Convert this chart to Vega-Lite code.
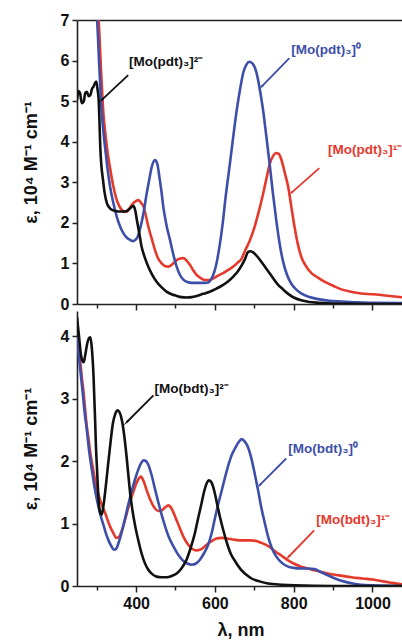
{
  "$schema": "https://vega.github.io/schema/vega-lite/v6.json",
  "padding": {"left": 22, "top": 12, "right": 0, "bottom": 0},
  "background": "white",
  "bounds": "flush",
  "spacing": 7,
  "config": {
    "view": {"stroke": null},
    "axis": {"labelFont": "Liberation Sans", "labelFontWeight": "bold", "labelFontSize": 16, "labelColor": "#111", "titleFont": "Liberation Sans", "titleFontWeight": "bold", "titleFontSize": 18, "titleColor": "#111", "domainColor": "#222", "domainWidth": 1.6, "tickColor": "#222", "tickWidth": 1.5, "grid": false, "labelOverlap": false}
  },
  "datasets": {
    "top": [
      {"s":"1-","wl":295,"e":8.4},{"s":"1-","wl":300,"e":7.6},{"s":"1-","wl":305,"e":7.0},{"s":"1-","wl":311,"e":5.77},{"s":"1-","wl":317,"e":4.7},{"s":"1-","wl":322,"e":4.2},{"s":"1-","wl":328,"e":3.71},{"s":"1-","wl":334,"e":3.35},{"s":"1-","wl":339,"e":3.06},{"s":"1-","wl":345,"e":2.78},{"s":"1-","wl":351,"e":2.56},{"s":"1-","wl":357,"e":2.42},{"s":"1-","wl":364,"e":2.32},{"s":"1-","wl":370,"e":2.27},{"s":"1-","wl":377,"e":2.28},{"s":"1-","wl":383,"e":2.35},{"s":"1-","wl":389,"e":2.44},{"s":"1-","wl":397,"e":2.52},{"s":"1-","wl":406,"e":2.56},{"s":"1-","wl":412,"e":2.5},{"s":"1-","wl":419,"e":2.4},{"s":"1-","wl":425,"e":2.17},{"s":"1-","wl":431,"e":1.91},{"s":"1-","wl":440,"e":1.6},{"s":"1-","wl":448,"e":1.33},{"s":"1-","wl":456,"e":1.12},{"s":"1-","wl":465,"e":1.0},{"s":"1-","wl":474,"e":0.93},{"s":"1-","wl":482,"e":0.92},{"s":"1-","wl":492,"e":0.98},{"s":"1-","wl":503,"e":1.08},{"s":"1-","wl":512,"e":1.12},{"s":"1-","wl":520,"e":1.13},{"s":"1-","wl":528,"e":1.07},{"s":"1-","wl":537,"e":0.96},{"s":"1-","wl":545,"e":0.83},{"s":"1-","wl":554,"e":0.71},{"s":"1-","wl":564,"e":0.64},{"s":"1-","wl":575,"e":0.59},{"s":"1-","wl":585,"e":0.59},{"s":"1-","wl":596,"e":0.63},{"s":"1-","wl":608,"e":0.7},{"s":"1-","wl":621,"e":0.76},{"s":"1-","wl":634,"e":0.84},{"s":"1-","wl":646,"e":0.92},{"s":"1-","wl":658,"e":1.02},{"s":"1-","wl":668,"e":1.12},{"s":"1-","wl":676,"e":1.3},{"s":"1-","wl":688,"e":1.55},{"s":"1-","wl":701,"e":1.91},{"s":"1-","wl":712,"e":2.3},{"s":"1-","wl":722,"e":2.7},{"s":"1-","wl":731,"e":3.1},{"s":"1-","wl":739,"e":3.45},{"s":"1-","wl":748,"e":3.65},{"s":"1-","wl":756,"e":3.72},{"s":"1-","wl":762,"e":3.7},{"s":"1-","wl":769,"e":3.55},{"s":"1-","wl":777,"e":3.25},{"s":"1-","wl":786,"e":2.89},{"s":"1-","wl":794,"e":2.4},{"s":"1-","wl":802,"e":1.91},{"s":"1-","wl":810,"e":1.5},{"s":"1-","wl":819,"e":1.17},{"s":"1-","wl":830,"e":0.95},{"s":"1-","wl":845,"e":0.76},{"s":"1-","wl":860,"e":0.66},{"s":"1-","wl":878,"e":0.55},{"s":"1-","wl":900,"e":0.45},{"s":"1-","wl":921,"e":0.36},{"s":"1-","wl":946,"e":0.3},{"s":"1-","wl":971,"e":0.26},{"s":"1-","wl":1000,"e":0.24},{"s":"1-","wl":1022,"e":0.22},{"s":"1-","wl":1050,"e":0.19},{"s":"1-","wl":1080,"e":0.16},
      {"s":"0","wl":290,"e":8.4},{"s":"0","wl":295,"e":7.6},{"s":"0","wl":301,"e":7.0},{"s":"0","wl":307,"e":5.77},{"s":"0","wl":313,"e":4.7},{"s":"0","wl":318,"e":4.15},{"s":"0","wl":322,"e":3.8},{"s":"0","wl":328,"e":3.3},{"s":"0","wl":334,"e":2.89},{"s":"0","wl":342,"e":2.5},{"s":"0","wl":351,"e":2.15},{"s":"0","wl":360,"e":1.9},{"s":"0","wl":368,"e":1.74},{"s":"0","wl":378,"e":1.62},{"s":"0","wl":385,"e":1.58},{"s":"0","wl":392,"e":1.55},{"s":"0","wl":398,"e":1.58},{"s":"0","wl":404,"e":1.66},{"s":"0","wl":410,"e":1.85},{"s":"0","wl":418,"e":2.2},{"s":"0","wl":427,"e":2.73},{"s":"0","wl":434,"e":3.1},{"s":"0","wl":440,"e":3.39},{"s":"0","wl":448,"e":3.55},{"s":"0","wl":454,"e":3.45},{"s":"0","wl":459,"e":3.14},{"s":"0","wl":464,"e":2.8},{"s":"0","wl":469,"e":2.4},{"s":"0","wl":477,"e":1.95},{"s":"0","wl":486,"e":1.58},{"s":"0","wl":495,"e":1.2},{"s":"0","wl":503,"e":0.92},{"s":"0","wl":511,"e":0.72},{"s":"0","wl":520,"e":0.6},{"s":"0","wl":530,"e":0.54},{"s":"0","wl":541,"e":0.52},{"s":"0","wl":552,"e":0.52},{"s":"0","wl":562,"e":0.52},{"s":"0","wl":575,"e":0.52},{"s":"0","wl":583,"e":0.53},{"s":"0","wl":590,"e":0.6},{"s":"0","wl":596,"e":0.72},{"s":"0","wl":604,"e":1.0},{"s":"0","wl":613,"e":1.5},{"s":"0","wl":620,"e":2.0},{"s":"0","wl":628,"e":2.7},{"s":"0","wl":636,"e":3.3},{"s":"0","wl":645,"e":4.0},{"s":"0","wl":655,"e":4.75},{"s":"0","wl":664,"e":5.3},{"s":"0","wl":672,"e":5.7},{"s":"0","wl":680,"e":5.9},{"s":"0","wl":688,"e":5.97},{"s":"0","wl":696,"e":5.92},{"s":"0","wl":705,"e":5.72},{"s":"0","wl":713,"e":5.35},{"s":"0","wl":722,"e":4.8},{"s":"0","wl":731,"e":4.1},{"s":"0","wl":739,"e":3.45},{"s":"0","wl":747,"e":2.75},{"s":"0","wl":756,"e":2.05},{"s":"0","wl":765,"e":1.45},{"s":"0","wl":773,"e":1.05},{"s":"0","wl":783,"e":0.72},{"s":"0","wl":794,"e":0.5},{"s":"0","wl":806,"e":0.36},{"s":"0","wl":819,"e":0.26},{"s":"0","wl":840,"e":0.17},{"s":"0","wl":862,"e":0.12},{"s":"0","wl":890,"e":0.08},{"s":"0","wl":921,"e":0.06},{"s":"0","wl":960,"e":0.04},{"s":"0","wl":1000,"e":0.03},{"s":"0","wl":1080,"e":0.02},
      {"s":"2-","wl":250,"e":5.03},{"s":"2-","wl":254,"e":5.25},{"s":"2-","wl":258,"e":5.19},{"s":"2-","wl":262,"e":4.95},{"s":"2-","wl":267,"e":4.99},{"s":"2-","wl":271,"e":5.2},{"s":"2-","wl":275,"e":5.23},{"s":"2-","wl":280,"e":5.12},{"s":"2-","wl":284,"e":5.15},{"s":"2-","wl":288,"e":5.3},{"s":"2-","wl":292,"e":5.36},{"s":"2-","wl":296,"e":5.45},{"s":"2-","wl":299,"e":5.48},{"s":"2-","wl":302,"e":5.3},{"s":"2-","wl":305,"e":5.03},{"s":"2-","wl":307,"e":4.5},{"s":"2-","wl":309,"e":3.88},{"s":"2-","wl":312,"e":3.4},{"s":"2-","wl":316,"e":3.06},{"s":"2-","wl":320,"e":2.75},{"s":"2-","wl":326,"e":2.48},{"s":"2-","wl":332,"e":2.38},{"s":"2-","wl":339,"e":2.32},{"s":"2-","wl":355,"e":2.28},{"s":"2-","wl":372,"e":2.28},{"s":"2-","wl":385,"e":2.36},{"s":"2-","wl":393,"e":2.42},{"s":"2-","wl":398,"e":2.3},{"s":"2-","wl":402,"e":2.07},{"s":"2-","wl":408,"e":1.75},{"s":"2-","wl":414,"e":1.41},{"s":"2-","wl":422,"e":1.15},{"s":"2-","wl":431,"e":0.92},{"s":"2-","wl":441,"e":0.72},{"s":"2-","wl":452,"e":0.55},{"s":"2-","wl":465,"e":0.41},{"s":"2-","wl":478,"e":0.3},{"s":"2-","wl":490,"e":0.24},{"s":"2-","wl":503,"e":0.2},{"s":"2-","wl":515,"e":0.17},{"s":"2-","wl":528,"e":0.16},{"s":"2-","wl":541,"e":0.17},{"s":"2-","wl":554,"e":0.2},{"s":"2-","wl":570,"e":0.25},{"s":"2-","wl":587,"e":0.3},{"s":"2-","wl":604,"e":0.38},{"s":"2-","wl":621,"e":0.47},{"s":"2-","wl":634,"e":0.56},{"s":"2-","wl":646,"e":0.67},{"s":"2-","wl":658,"e":0.8},{"s":"2-","wl":668,"e":0.95},{"s":"2-","wl":676,"e":1.1},{"s":"2-","wl":684,"e":1.28},{"s":"2-","wl":690,"e":1.3},{"s":"2-","wl":696,"e":1.28},{"s":"2-","wl":705,"e":1.2},{"s":"2-","wl":715,"e":1.08},{"s":"2-","wl":727,"e":0.92},{"s":"2-","wl":743,"e":0.7},{"s":"2-","wl":760,"e":0.48},{"s":"2-","wl":773,"e":0.36},{"s":"2-","wl":786,"e":0.25},{"s":"2-","wl":800,"e":0.16},{"s":"2-","wl":819,"e":0.09},{"s":"2-","wl":840,"e":0.05},{"s":"2-","wl":862,"e":0.03},{"s":"2-","wl":900,"e":0.01},{"s":"2-","wl":1000,"e":0},{"s":"2-","wl":1080,"e":0}
    ],
    "bottom": [
      {"s":"1-","wl":250,"e":3.98},{"s":"1-","wl":254,"e":3.8},{"s":"1-","wl":258,"e":3.61},{"s":"1-","wl":262,"e":3.35},{"s":"1-","wl":267,"e":3.08},{"s":"1-","wl":271,"e":2.8},{"s":"1-","wl":275,"e":2.55},{"s":"1-","wl":280,"e":2.32},{"s":"1-","wl":284,"e":2.12},{"s":"1-","wl":290,"e":1.9},{"s":"1-","wl":296,"e":1.69},{"s":"1-","wl":302,"e":1.52},{"s":"1-","wl":309,"e":1.37},{"s":"1-","wl":316,"e":1.25},{"s":"1-","wl":322,"e":1.16},{"s":"1-","wl":328,"e":1.05},{"s":"1-","wl":334,"e":0.95},{"s":"1-","wl":342,"e":0.85},{"s":"1-","wl":350,"e":0.77},{"s":"1-","wl":357,"e":0.79},{"s":"1-","wl":364,"e":0.89},{"s":"1-","wl":372,"e":1.06},{"s":"1-","wl":381,"e":1.27},{"s":"1-","wl":390,"e":1.45},{"s":"1-","wl":398,"e":1.6},{"s":"1-","wl":405,"e":1.7},{"s":"1-","wl":412,"e":1.75},{"s":"1-","wl":419,"e":1.68},{"s":"1-","wl":427,"e":1.53},{"s":"1-","wl":436,"e":1.38},{"s":"1-","wl":448,"e":1.24},{"s":"1-","wl":456,"e":1.2},{"s":"1-","wl":465,"e":1.21},{"s":"1-","wl":474,"e":1.26},{"s":"1-","wl":482,"e":1.29},{"s":"1-","wl":490,"e":1.24},{"s":"1-","wl":499,"e":1.11},{"s":"1-","wl":510,"e":0.94},{"s":"1-","wl":520,"e":0.79},{"s":"1-","wl":530,"e":0.68},{"s":"1-","wl":541,"e":0.6},{"s":"1-","wl":552,"e":0.57},{"s":"1-","wl":562,"e":0.58},{"s":"1-","wl":572,"e":0.62},{"s":"1-","wl":583,"e":0.68},{"s":"1-","wl":595,"e":0.73},{"s":"1-","wl":604,"e":0.76},{"s":"1-","wl":617,"e":0.77},{"s":"1-","wl":630,"e":0.76},{"s":"1-","wl":650,"e":0.74},{"s":"1-","wl":668,"e":0.73},{"s":"1-","wl":690,"e":0.73},{"s":"1-","wl":705,"e":0.72},{"s":"1-","wl":718,"e":0.69},{"s":"1-","wl":735,"e":0.64},{"s":"1-","wl":752,"e":0.56},{"s":"1-","wl":770,"e":0.48},{"s":"1-","wl":786,"e":0.41},{"s":"1-","wl":800,"e":0.36},{"s":"1-","wl":819,"e":0.31},{"s":"1-","wl":836,"e":0.28},{"s":"1-","wl":860,"e":0.24},{"s":"1-","wl":887,"e":0.2},{"s":"1-","wl":915,"e":0.17},{"s":"1-","wl":946,"e":0.14},{"s":"1-","wl":975,"e":0.12},{"s":"1-","wl":1005,"e":0.1},{"s":"1-","wl":1030,"e":0.07},{"s":"1-","wl":1050,"e":0.05},{"s":"1-","wl":1080,"e":0.02},
      {"s":"0","wl":250,"e":3.98},{"s":"0","wl":256,"e":3.6},{"s":"0","wl":263,"e":3.18},{"s":"0","wl":269,"e":2.8},{"s":"0","wl":275,"e":2.49},{"s":"0","wl":281,"e":2.15},{"s":"0","wl":288,"e":1.85},{"s":"0","wl":294,"e":1.6},{"s":"0","wl":301,"e":1.37},{"s":"0","wl":309,"e":1.15},{"s":"0","wl":317,"e":0.98},{"s":"0","wl":323,"e":0.85},{"s":"0","wl":330,"e":0.73},{"s":"0","wl":337,"e":0.64},{"s":"0","wl":344,"e":0.58},{"s":"0","wl":350,"e":0.6},{"s":"0","wl":355,"e":0.68},{"s":"0","wl":363,"e":0.85},{"s":"0","wl":372,"e":1.08},{"s":"0","wl":380,"e":1.3},{"s":"0","wl":389,"e":1.52},{"s":"0","wl":398,"e":1.72},{"s":"0","wl":406,"e":1.87},{"s":"0","wl":413,"e":1.97},{"s":"0","wl":419,"e":2.01},{"s":"0","wl":425,"e":2.0},{"s":"0","wl":431,"e":1.94},{"s":"0","wl":440,"e":1.76},{"s":"0","wl":448,"e":1.55},{"s":"0","wl":458,"e":1.3},{"s":"0","wl":469,"e":1.05},{"s":"0","wl":482,"e":0.8},{"s":"0","wl":495,"e":0.63},{"s":"0","wl":507,"e":0.5},{"s":"0","wl":520,"e":0.4},{"s":"0","wl":530,"e":0.36},{"s":"0","wl":541,"e":0.34},{"s":"0","wl":552,"e":0.36},{"s":"0","wl":562,"e":0.42},{"s":"0","wl":572,"e":0.52},{"s":"0","wl":583,"e":0.66},{"s":"0","wl":592,"e":0.85},{"s":"0","wl":600,"e":1.08},{"s":"0","wl":608,"e":1.3},{"s":"0","wl":617,"e":1.52},{"s":"0","wl":625,"e":1.72},{"s":"0","wl":634,"e":1.93},{"s":"0","wl":643,"e":2.1},{"s":"0","wl":651,"e":2.2},{"s":"0","wl":660,"e":2.3},{"s":"0","wl":668,"e":2.35},{"s":"0","wl":676,"e":2.31},{"s":"0","wl":684,"e":2.22},{"s":"0","wl":693,"e":2.03},{"s":"0","wl":701,"e":1.8},{"s":"0","wl":710,"e":1.52},{"s":"0","wl":718,"e":1.25},{"s":"0","wl":727,"e":1.0},{"s":"0","wl":735,"e":0.79},{"s":"0","wl":745,"e":0.6},{"s":"0","wl":756,"e":0.47},{"s":"0","wl":770,"e":0.37},{"s":"0","wl":786,"e":0.31},{"s":"0","wl":800,"e":0.29},{"s":"0","wl":819,"e":0.28},{"s":"0","wl":836,"e":0.28},{"s":"0","wl":853,"e":0.27},{"s":"0","wl":870,"e":0.22},{"s":"0","wl":887,"e":0.17},{"s":"0","wl":905,"e":0.12},{"s":"0","wl":929,"e":0.07},{"s":"0","wl":950,"e":0.04},{"s":"0","wl":971,"e":0.02},{"s":"0","wl":1000,"e":0.01},{"s":"0","wl":1080,"e":0},
      {"s":"2-","wl":250,"e":4.3},{"s":"2-","wl":255,"e":4.0},{"s":"2-","wl":260,"e":3.7},{"s":"2-","wl":264,"e":3.6},{"s":"2-","wl":267,"e":3.58},{"s":"2-","wl":271,"e":3.7},{"s":"2-","wl":276,"e":3.88},{"s":"2-","wl":281,"e":3.97},{"s":"2-","wl":284,"e":3.98},{"s":"2-","wl":287,"e":3.85},{"s":"2-","wl":290,"e":3.6},{"s":"2-","wl":292,"e":3.35},{"s":"2-","wl":294,"e":3.0},{"s":"2-","wl":296,"e":2.65},{"s":"2-","wl":298,"e":2.25},{"s":"2-","wl":301,"e":1.85},{"s":"2-","wl":305,"e":1.35},{"s":"2-","wl":309,"e":1.17},{"s":"2-","wl":312,"e":1.14},{"s":"2-","wl":315,"e":1.2},{"s":"2-","wl":319,"e":1.37},{"s":"2-","wl":324,"e":1.65},{"s":"2-","wl":330,"e":2.01},{"s":"2-","wl":336,"e":2.35},{"s":"2-","wl":341,"e":2.6},{"s":"2-","wl":347,"e":2.75},{"s":"2-","wl":353,"e":2.81},{"s":"2-","wl":358,"e":2.78},{"s":"2-","wl":364,"e":2.65},{"s":"2-","wl":370,"e":2.4},{"s":"2-","wl":375,"e":2.12},{"s":"2-","wl":380,"e":1.8},{"s":"2-","wl":385,"e":1.48},{"s":"2-","wl":391,"e":1.2},{"s":"2-","wl":398,"e":0.95},{"s":"2-","wl":406,"e":0.72},{"s":"2-","wl":414,"e":0.52},{"s":"2-","wl":422,"e":0.37},{"s":"2-","wl":431,"e":0.26},{"s":"2-","wl":441,"e":0.19},{"s":"2-","wl":452,"e":0.15},{"s":"2-","wl":465,"e":0.14},{"s":"2-","wl":478,"e":0.14},{"s":"2-","wl":490,"e":0.16},{"s":"2-","wl":503,"e":0.2},{"s":"2-","wl":515,"e":0.28},{"s":"2-","wl":528,"e":0.42},{"s":"2-","wl":538,"e":0.6},{"s":"2-","wl":549,"e":0.84},{"s":"2-","wl":558,"e":1.1},{"s":"2-","wl":566,"e":1.32},{"s":"2-","wl":573,"e":1.52},{"s":"2-","wl":579,"e":1.64},{"s":"2-","wl":585,"e":1.69},{"s":"2-","wl":590,"e":1.67},{"s":"2-","wl":595,"e":1.6},{"s":"2-","wl":600,"e":1.48},{"s":"2-","wl":606,"e":1.3},{"s":"2-","wl":613,"e":1.1},{"s":"2-","wl":621,"e":0.9},{"s":"2-","wl":630,"e":0.7},{"s":"2-","wl":640,"e":0.52},{"s":"2-","wl":651,"e":0.4},{"s":"2-","wl":665,"e":0.27},{"s":"2-","wl":680,"e":0.18},{"s":"2-","wl":693,"e":0.12},{"s":"2-","wl":715,"e":0.07},{"s":"2-","wl":735,"e":0.04},{"s":"2-","wl":770,"e":0.02},{"s":"2-","wl":802,"e":0.01},{"s":"2-","wl":900,"e":0},{"s":"2-","wl":1080,"e":0}
    ],
    "topNotes": [
      {"s":"2-","label":"[Mo(pdt)₃]²⁻","tx":382,"ty":5.96,"x1":380,"y1":5.64,"x2":313,"y2":5.03},
      {"s":"0","label":"[Mo(pdt)₃]⁰","tx":794,"ty":6.26,"x1":789,"y1":6.06,"x2":718,"y2":5.35},
      {"s":"1-","label":"[Mo(pdt)₃]¹⁻","tx":887,"ty":3.8,"x1":865,"y1":3.35,"x2":794,"y2":2.74}
    ],
    "bottomNotes": [
      {"s":"2-","label":"[Mo(bdt)₃]²⁻","tx":447,"ty":3.16,"x1":444,"y1":3.05,"x2":376,"y2":2.62},
      {"s":"0","label":"[Mo(bdt)₃]⁰","tx":786,"ty":2.2,"x1":781,"y1":2.04,"x2":713,"y2":1.61},
      {"s":"1-","label":"[Mo(bdt)₃]¹⁻","tx":857,"ty":1.05,"x1":852,"y1":0.89,"x2":786,"y2":0.46}
    ]
  },
  "vconcat": [
    {
      "width": 327,
      "height": 284,
      "resolve": {"axis": {"x": "independent"}},
      "layer": [
        {
          "data": {"name": "top"},
          "mark": {"type": "line", "interpolate": "monotone", "strokeWidth": 2.6, "clip": true},
          "encoding": {
            "x": {"field": "wl", "type": "quantitative", "scale": {"domain": [250, 1080], "nice": false, "zero": false},
                  "axis": {"values": [300,400,500,600,700,800,900,1000], "labels": false, "title": null, "tickSize": {"condition": {"test": "datum.value % 200 === 0", "value": 6}, "value": 4}}},
            "y": {"field": "e", "type": "quantitative", "scale": {"domain": [0, 7], "nice": false},
                  "axis": {"values": [0,0.5,1,1.5,2,2.5,3,3.5,4,4.5,5,5.5,6,6.5,7], "format": "d", "labelExpr": "datum.value % 1 === 0 ? datum.label : ''", "tickSize": {"condition": {"test": "datum.value % 1 === 0", "value": 5}, "value": 3}, "labelPadding": 3, "title": "ε, 10⁴ M⁻¹ cm⁻¹", "titlePadding": 20}},
            "color": {"field": "s", "type": "nominal", "scale": {"domain": ["2-","0","1-"], "range": ["#111111","#3d4fa8","#e5392c"]}, "legend": null}
          }
        },
        {
          "data": {"name": "topNotes"},
          "mark": {"type": "rule", "strokeWidth": 1.8},
          "encoding": {
            "x": {"field": "x1", "type": "quantitative", "axis": {"orient": "top", "labels": false, "ticks": false, "title": null}},
            "y": {"field": "y1", "type": "quantitative"},
            "x2": {"field": "x2"},
            "y2": {"field": "y2"},
            "color": {"field": "s", "type": "nominal", "legend": null}
          }
        },
        {
          "data": {"name": "topNotes"},
          "mark": {"type": "point", "shape": "wedge", "filled": true, "opacity": 1, "size": 70, "angle": 225},
          "encoding": {
            "x": {"field": "x2", "type": "quantitative", "axis": null},
            "y": {"field": "y2", "type": "quantitative"},
            "color": {"field": "s", "type": "nominal", "legend": null}
          }
        },
        {
          "data": {"name": "topNotes"},
          "mark": {"type": "text", "align": "left", "baseline": "middle", "font": "Liberation Sans", "fontWeight": "bold", "fontSize": 13.5},
          "encoding": {
            "x": {"field": "tx", "type": "quantitative", "axis": null},
            "y": {"field": "ty", "type": "quantitative"},
            "text": {"field": "label"},
            "color": {"field": "s", "type": "nominal", "legend": null}
          }
        }
      ]
    },
    {
      "width": 327,
      "height": 275,
      "resolve": {"axis": {"x": "independent"}},
      "layer": [
        {
          "data": {"name": "bottom"},
          "mark": {"type": "line", "interpolate": "monotone", "strokeWidth": 2.6, "clip": true},
          "encoding": {
            "x": {"field": "wl", "type": "quantitative", "scale": {"domain": [250, 1080], "nice": false, "zero": false},
                  "axis": {"values": [300,400,500,600,700,800,900,1000], "format": "d", "labelExpr": "datum.value % 200 === 0 ? datum.label : ''", "tickSize": {"condition": {"test": "datum.value % 200 === 0", "value": 6}, "value": 4}, "labelPadding": 3, "title": "λ, nm", "titlePadding": 10}},
            "y": {"field": "e", "type": "quantitative", "scale": {"domain": [0, 4.4], "nice": false},
                  "axis": {"values": [0,0.5,1,1.5,2,2.5,3,3.5,4], "format": "d", "labelExpr": "datum.value % 1 === 0 ? datum.label : ''", "tickSize": {"condition": {"test": "datum.value % 1 === 0", "value": 5}, "value": 3}, "labelPadding": 3, "title": "ε, 10⁴ M⁻¹ cm⁻¹", "titlePadding": 20}},
            "color": {"field": "s", "type": "nominal", "scale": {"domain": ["2-","0","1-"], "range": ["#111111","#3d4fa8","#e5392c"]}, "legend": null}
          }
        },
        {
          "data": {"name": "bottomNotes"},
          "mark": {"type": "rule", "strokeWidth": 1.8},
          "encoding": {
            "x": {"field": "x1", "type": "quantitative", "axis": null},
            "y": {"field": "y1", "type": "quantitative"},
            "x2": {"field": "x2"},
            "y2": {"field": "y2"},
            "color": {"field": "s", "type": "nominal", "legend": null}
          }
        },
        {
          "data": {"name": "bottomNotes"},
          "mark": {"type": "point", "shape": "wedge", "filled": true, "opacity": 1, "size": 70, "angle": 225},
          "encoding": {
            "x": {"field": "x2", "type": "quantitative", "axis": null},
            "y": {"field": "y2", "type": "quantitative"},
            "color": {"field": "s", "type": "nominal", "legend": null}
          }
        },
        {
          "data": {"name": "bottomNotes"},
          "mark": {"type": "text", "align": "left", "baseline": "middle", "font": "Liberation Sans", "fontWeight": "bold", "fontSize": 13.5},
          "encoding": {
            "x": {"field": "tx", "type": "quantitative", "axis": null},
            "y": {"field": "ty", "type": "quantitative"},
            "text": {"field": "label"},
            "color": {"field": "s", "type": "nominal", "legend": null}
          }
        }
      ]
    }
  ]
}
